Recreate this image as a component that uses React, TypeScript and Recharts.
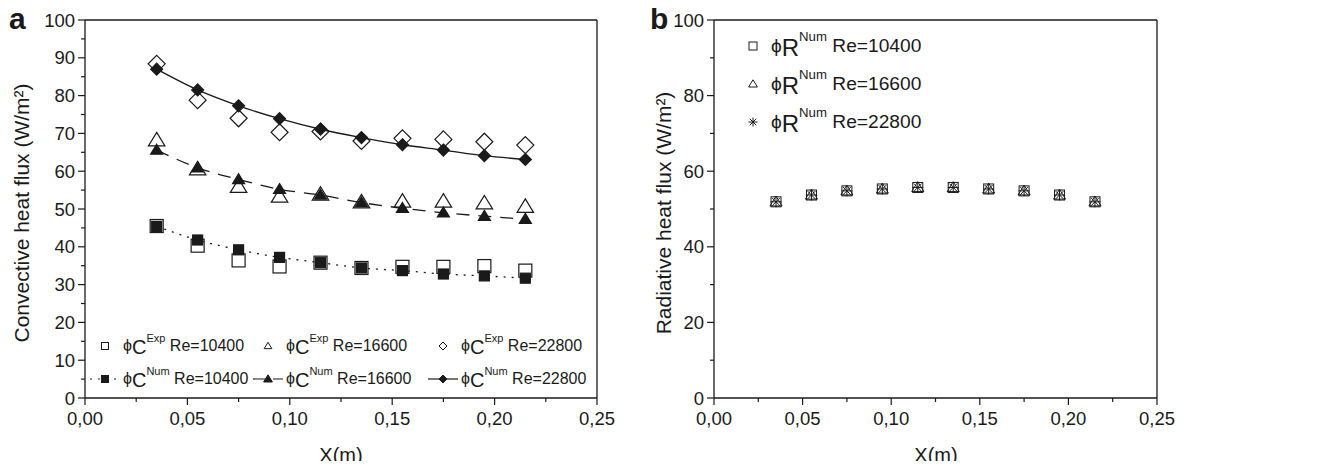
import React from "react";
import { LineChart, Line, XAxis, YAxis, ReferenceLine } from "recharts";

const xPositions = [0.035, 0.055, 0.075, 0.095, 0.115, 0.135, 0.155, 0.175, 0.195, 0.215];

// convective heat flux, panel a
const expRe10400 = [45.5, 40.3, 36.4, 34.8, 35.8, 34.4, 34.7, 34.7, 34.9, 33.7];
const numRe10400 = [45.4, 41.8, 39.2, 37.2, 35.8, 34.4, 33.7, 32.8, 32.3, 31.7];
const expRe16600 = [68.2, 60.5, 55.9, 53.3, 53.8, 51.8, 52.0, 52.0, 51.5, 50.6];
const numRe16600 = [65.6, 60.9, 57.8, 55.2, 53.7, 51.7, 50.2, 49.0, 48.1, 47.3];
const expRe22800 = [88.4, 78.8, 74.0, 70.3, 70.5, 68.0, 68.7, 68.4, 67.8, 66.9];
const numRe22800 = [87.0, 81.5, 77.3, 73.9, 71.1, 68.9, 67.0, 65.6, 64.1, 63.1];

// radiative heat flux, panel b
const radRe10400 = [51.9, 53.7, 54.8, 55.3, 55.7, 55.7, 55.3, 54.8, 53.7, 51.9];
const radRe16600 = [51.9, 53.7, 54.8, 55.3, 55.7, 55.7, 55.3, 54.8, 53.7, 51.9];
const radRe22800 = [51.9, 53.7, 54.8, 55.3, 55.7, 55.7, 55.3, 54.8, 53.7, 51.9];

const xTicks = [0, 0.025, 0.05, 0.075, 0.1, 0.125, 0.15, 0.175, 0.2, 0.225, 0.25];
const convTicks = [0, 5, 10, 15, 20, 25, 30, 35, 40, 45, 50, 55, 60, 65, 70, 75, 80, 85, 90, 95, 100];
const radTicks = [0, 10, 20, 30, 40, 50, 60, 70, 80, 90, 100];

const convData = xPositions.map((x, i) => ({
  x,
  exp10400: expRe10400[i],
  num10400: numRe10400[i],
  exp16600: expRe16600[i],
  num16600: numRe16600[i],
  exp22800: expRe22800[i],
  num22800: numRe22800[i],
}));

const radData = xPositions.map((x, i) => ({
  x,
  r10400: radRe10400[i],
  r16600: radRe16600[i],
  r22800: radRe22800[i],
}));

const FONT = '"Liberation Sans", Arial, Helvetica, sans-serif';
const INK = "#1a1a1a";

type MarkerKind = "square" | "triangle" | "diamond" | "asterisk";

function Marker({ kind, cx, cy, size, filled, sw = 1.2 }: any) {
  if (cx == null || cy == null) return null;
  const h = size / 2;
  const fill = filled ? INK : "none";
  if (kind === "square") {
    return <rect x={cx - h} y={cy - h} width={size} height={size} fill={fill} stroke={INK} strokeWidth={sw} />;
  }
  if (kind === "triangle") {
    const pts = `${cx},${cy - h * 1.05} ${cx + h * 1.1},${cy + h * 0.75} ${cx - h * 1.1},${cy + h * 0.75}`;
    return <polygon points={pts} fill={fill} stroke={INK} strokeWidth={sw} strokeLinejoin="miter" />;
  }
  if (kind === "diamond") {
    const pts = `${cx},${cy - h} ${cx + h},${cy} ${cx},${cy + h} ${cx - h},${cy}`;
    return <polygon points={pts} fill={fill} stroke={INK} strokeWidth={sw} />;
  }
  const d = h * 0.72;
  return (
    <g stroke={INK} strokeWidth={sw}>
      <line x1={cx - h} y1={cy} x2={cx + h} y2={cy} />
      <line x1={cx} y1={cy - h} x2={cx} y2={cy + h} />
      <line x1={cx - d} y1={cy - d} x2={cx + d} y2={cy + d} />
      <line x1={cx - d} y1={cy + d} x2={cx + d} y2={cy - d} />
    </g>
  );
}

const dotOf = (kind: MarkerKind, size: number, filled: boolean, sw?: number) => (p: any) => (
  <Marker key={`${kind}-${p.index}`} kind={kind} cx={p.cx} cy={p.cy} size={size} filled={filled} sw={sw} />
);

function YTick({ x, y, payload, major }: any) {
  const v = payload.value;
  const isMajor = v % major === 0;
  return (
    <g>
      <line x1={x - (isMajor ? 7 : 4)} x2={x} y1={y} y2={y} stroke={INK} strokeWidth={1.2} />
      {isMajor && (
        <text x={x - 10} y={y} dy={6.5} textAnchor="end" fontSize={18.5} fontFamily={FONT} fill={INK}>
          {v}
        </text>
      )}
    </g>
  );
}

function XTick({ x, y, payload }: any) {
  const v = payload.value;
  const isMajor = Math.abs(v / 0.05 - Math.round(v / 0.05)) < 1e-6;
  return (
    <g>
      <line x1={x} x2={x} y1={y} y2={y + (isMajor ? 7 : 4)} stroke={INK} strokeWidth={1.2} />
      {isMajor && (
        <text x={x} y={y} dy={27} textAnchor="middle" fontSize={18.5} fontFamily={FONT} fill={INK}>
          {v.toFixed(2).replace(".", ",")}
        </text>
      )}
    </g>
  );
}

function Sym({ kind, filled, dash, size = 8 }: any) {
  return (
    <svg width={30} height={14} style={{ display: "inline-block", verticalAlign: "middle" }}>
      {dash !== undefined && <line x1={0} x2={30} y1={7} y2={7} stroke={INK} strokeWidth={1.2} strokeDasharray={dash} />}
      <Marker kind={kind} cx={15} cy={7} size={size} filled={filled} sw={1} />
    </svg>
  );
}

function LegendItem({ left, top, sym, letter, sup, re, scale = 1 }: any) {
  return (
    <div
      style={{
        position: "absolute",
        left,
        top,
        display: "flex",
        alignItems: "center",
        whiteSpace: "nowrap",
        fontFamily: FONT,
        fontSize: 16 * scale,
        color: INK,
        lineHeight: "20px",
      }}
    >
      {sym}
      <span style={{ marginLeft: 3 }}>
        <span style={{ fontSize: 16 * scale }}>ϕ</span>
        <span style={{ fontSize: 20 * scale, position: "relative", top: 3 * scale }}>{letter}</span>
        <span style={{ fontSize: 11 * scale, position: "relative", top: -9 * scale }}>{sup}</span>
        <span> Re={re}</span>
      </span>
    </div>
  );
}

function AxisTitle({ x, y, text, rotate, size = 21 }: any) {
  return (
    <div
      style={{
        position: "absolute",
        left: x,
        top: y,
        transform: `translate(-50%, -50%)${rotate ? " rotate(-90deg)" : ""}`,
        whiteSpace: "nowrap",
        fontFamily: FONT,
        fontSize: size,
        lineHeight: 1,
        color: INK,
      }}
    >
      {text}
    </div>
  );
}

const letterStyle = {
  position: "absolute" as const,
  top: 4,
  fontFamily: FONT,
  fontWeight: "bold" as const,
  fontSize: 30,
  lineHeight: 1,
  color: INK,
};

const axisProps = { stroke: INK, strokeWidth: 1.3 };

export default function App() {
  return (
    <div style={{ position: "relative", width: 1323, height: 469, margin: -8, background: "#fff", overflow: "hidden" }}>
      <div style={{ position: "absolute", left: 0, top: 0 }}>
        <LineChart width={620} height={469} data={convData} margin={{ top: 20, right: 23, bottom: 0, left: 0 }}>
          <XAxis
            type="number"
            dataKey="x"
            domain={[0, 0.25]}
            ticks={xTicks}
            interval={0}
            tickSize={0}
            tickMargin={0}
            tickLine={false}
            axisLine={axisProps}
            tick={(p: any) => <XTick {...p} />}
            height={71}
          />
          <YAxis
            type="number"
            domain={[0, 100]}
            ticks={convTicks}
            interval={0}
            tickSize={0}
            tickMargin={0}
            tickLine={false}
            axisLine={axisProps}
            tick={(p: any) => <YTick {...p} major={10} />}
            width={85}
          />
          <ReferenceLine y={100} stroke={INK} strokeWidth={1.3} ifOverflow="visible" />
          <ReferenceLine x={0.25} stroke={INK} strokeWidth={1.3} ifOverflow="visible" />
          <Line dataKey="exp10400" stroke="none" isAnimationActive={false} activeDot={false} dot={dotOf("square", 13, false)} />
          <Line dataKey="exp16600" stroke="none" isAnimationActive={false} activeDot={false} dot={dotOf("triangle", 15, false)} />
          <Line dataKey="exp22800" stroke="none" isAnimationActive={false} activeDot={false} dot={dotOf("diamond", 17, false)} />
          <Line type="monotone" dataKey="num10400" stroke={INK} strokeWidth={1.3} strokeDasharray="2 6" isAnimationActive={false} activeDot={false} dot={dotOf("square", 10, true)} />
          <Line type="monotone" dataKey="num16600" stroke={INK} strokeWidth={1.3} strokeDasharray="13 9" isAnimationActive={false} activeDot={false} dot={dotOf("triangle", 11, true)} />
          <Line type="monotone" dataKey="num22800" stroke={INK} strokeWidth={1.3} isAnimationActive={false} activeDot={false} dot={dotOf("diamond", 12, true)} />
        </LineChart>
      </div>

      <div style={{ position: "absolute", left: 620, top: 0 }}>
        <LineChart width={703} height={469} data={radData} margin={{ top: 20, right: 166, bottom: 0, left: 0 }}>
          <XAxis
            type="number"
            dataKey="x"
            domain={[0, 0.25]}
            ticks={xTicks}
            interval={0}
            tickSize={0}
            tickMargin={0}
            tickLine={false}
            axisLine={axisProps}
            tick={(p: any) => <XTick {...p} />}
            height={71}
          />
          <YAxis
            type="number"
            domain={[0, 100]}
            ticks={radTicks}
            interval={0}
            tickSize={0}
            tickMargin={0}
            tickLine={false}
            axisLine={axisProps}
            tick={(p: any) => <YTick {...p} major={20} />}
            width={94}
          />
          <ReferenceLine y={100} stroke={INK} strokeWidth={1.3} ifOverflow="visible" />
          <ReferenceLine x={0.25} stroke={INK} strokeWidth={1.3} ifOverflow="visible" />
          <Line dataKey="r10400" stroke="none" isAnimationActive={false} activeDot={false} dot={dotOf("square", 10, false, 1)} />
          <Line dataKey="r16600" stroke="none" isAnimationActive={false} activeDot={false} dot={dotOf("triangle", 11, false, 1)} />
          <Line dataKey="r22800" stroke="none" isAnimationActive={false} activeDot={false} dot={dotOf("asterisk", 11, false, 1)} />
        </LineChart>
      </div>

      {/* panel letters */}
      <div style={{ ...letterStyle, left: 9 }}>a</div>
      <div style={{ ...letterStyle, left: 650 }}>b</div>

      {/* axis titles */}
      <AxisTitle x={21} y={213} text="Convective heat flux (W/m²)" rotate />
      <AxisTitle x={341} y={455} text="X(m)" size={20} />
      <AxisTitle x={663} y={213} text="Radiative heat flux (W/m²)" rotate />
      <AxisTitle x={936} y={455} text="X(m)" size={20} />

      {/* legend a */}
      <LegendItem left={90} top={334} sym={<Sym kind="square" filled={false} size={7} />} letter="C" sup="Exp" re="10400" />
      <LegendItem left={253} top={334} sym={<Sym kind="triangle" filled={false} size={7} />} letter="C" sup="Exp" re="16600" />
      <LegendItem left={428} top={334} sym={<Sym kind="diamond" filled={false} size={8} />} letter="C" sup="Exp" re="22800" />
      <LegendItem left={90} top={367} sym={<Sym kind="square" filled dash="2 6" size={7} />} letter="C" sup="Num" re="10400" />
      <LegendItem left={253} top={367} sym={<Sym kind="triangle" filled dash="12 8" size={8} />} letter="C" sup="Num" re="16600" />
      <LegendItem left={428} top={367} sym={<Sym kind="diamond" filled dash="" size={8} />} letter="C" sup="Num" re="22800" />

      {/* legend b */}
      <LegendItem left={738} top={34} scale={1.2} sym={<Sym kind="square" filled={false} size={8} />} letter="R" sup="Num" re="10400" />
      <LegendItem left={738} top={72} scale={1.2} sym={<Sym kind="triangle" filled={false} size={8} />} letter="R" sup="Num" re="16600" />
      <LegendItem left={738} top={110} scale={1.2} sym={<Sym kind="asterisk" filled={false} size={9} />} letter="R" sup="Num" re="22800" />
    </div>
  );
}
